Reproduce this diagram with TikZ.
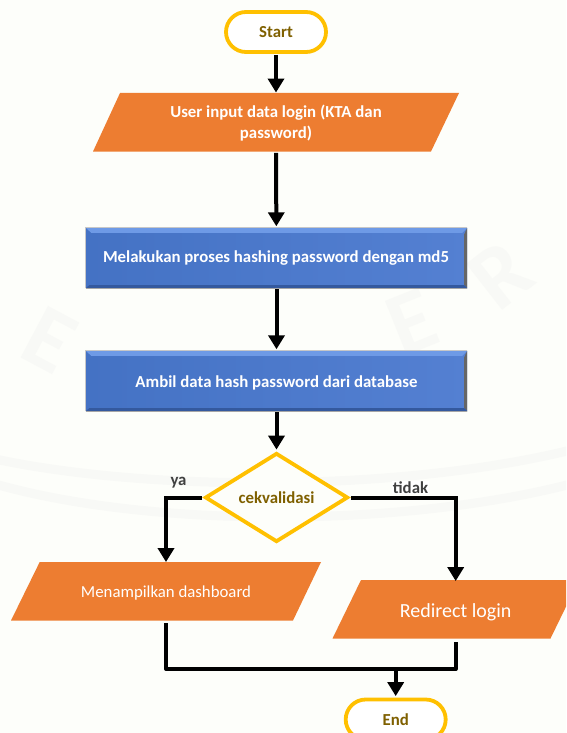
\documentclass[tikz,border=0pt]{standalone}
\usepackage{fontspec}
\setmainfont{Carlito}
\usetikzlibrary{shapes.geometric,arrows.meta}
\definecolor{orangeA}{HTML}{ED7D31}
\definecolor{blueA}{HTML}{4472C4}
\definecolor{blueB}{HTML}{5480D2}
\definecolor{blueC}{HTML}{6E9AE6}
\definecolor{blueD}{HTML}{34599E}
\definecolor{goldA}{HTML}{FFC000}
\definecolor{goldT}{HTML}{7F6000}
\definecolor{bgpage}{HTML}{FDFEFA}
\definecolor{wmark}{HTML}{F8F9F6}
\tikzset{
  x=1pt,y=-1pt,
  boldtxt/.style={font=\bfseries\fontsize{16.8}{21}\selectfont},
  term/.style={rectangle,rounded corners=20pt,draw=goldA,line width=3.8pt,fill=white,text=goldT,boldtxt,minimum width=100pt,minimum height=40pt,inner sep=0pt},
  parafill/.style={fill=orangeA},
  paratext/.style={rectangle,text=white,minimum height=58.5pt,inner sep=0pt,align=center},
  proc/.style={rectangle,left color=blueA,right color=blueB,minimum width=381pt,inner sep=0pt},
  proctext/.style={text=white,boldtxt,inner sep=0pt},
  dec/.style={diamond,draw=goldA,line width=3.8pt,fill=bgpage,text=goldT,boldtxt,minimum width=143pt,minimum height=89pt,inner sep=0pt,aspect=1.6},
  flow/.style={draw=black,line width=4pt,-{Triangle[width=16pt,length=14pt]},shorten >=1.5pt,shorten <=1pt},
  flowplain/.style={draw=black,line width=4pt,line join=round},
  lab/.style={text=black!75,boldtxt,inner sep=0pt},
  wm/.style={text=wmark,font=\bfseries\fontsize{90}{95}\selectfont,inner sep=0pt},
}
\newcommand{\bevelbox}[1]{%
  \fill[blueC] (#1.north west) -- (#1.north east) -- ++(-5,5) -- ++(-371,0) -- cycle;
  \fill[black!60] (#1.north east) -- (#1.south east) -- ++(-3,-3) -- ++(0,-51) -- cycle;
  \fill[blueD] (#1.south west) -- (#1.south east) -- ++(-3,-3) -- ++(-375,0) -- cycle;
  \draw[black!22,line width=1pt] (#1.south west) -- (#1.north west) -- (#1.north east);
  \draw[black!35,line width=1pt] (#1.south west) -- (#1.south east);
}
\begin{document}
\begin{tikzpicture}
\useasboundingbox (0,0) rectangle (566,733);
\clip (0,0) rectangle (566,733);
\fill[bgpage] (0,0) rectangle (566,733);
% faint watermark
\draw[wmark,line width=9pt] (-5,459) .. controls (150,492) and (400,492) .. (571,450);
\draw[wmark,line width=9pt] (-5,484) .. controls (150,528) and (400,528) .. (571,484);
\node[wm,rotate=-28] (wmE) at (50,340) {E};
\node[wm,rotate=22] (wmF) at (412,322) {E};
\node[wm,rotate=38] (wmR) at (500,275) {R};
% shapes
\node[term] (start) at (276,32) {Start};
\fill[parafill] (120,93) -- (459,93) -- (431,151.5) -- (93,151.5) -- cycle;
\node[paratext,boldtxt,minimum width=300pt] (input) at (276,123.5) {User input data login (KTA dan\\password)};
\node[proc,minimum height=60pt] (hash) at (276.5,258) {};
\node[proc,minimum height=60pt] (ambil) at (276.5,381) {};
\bevelbox{hash}
\bevelbox{ambil}
\node[proctext] (hasht) at (276,258.5) {Melakukan proses hashing password dengan md5};
\node[proctext] (ambilt) at (276.5,382.5) {Ambil data hash password dari database};
\node[dec] (cek) at (276.5,497.5) {cekvalidasi};
\fill[parafill] (39.7,562) -- (321,562) -- (293,620.5) -- (11,620.5) -- cycle;
\node[paratext,minimum width=250pt,font=\fontsize{16.8}{20}\selectfont] (dash) at (166,593) {Menampilkan dashboard};
\fill[parafill] (361,580) -- (579,580) -- (550.5,638.5) -- (332.5,638.5) -- cycle;
\node[paratext,minimum width=190pt,font=\fontsize{20}{24}\selectfont] (redir) at (455.7,612) {Redirect login};
\node[term] (end) at (395.7,719.5) {End};
\coordinate (merge) at (395.7,669);
\draw[flow] (start) -- (input.north);
\draw[flow] (input.south) ++(0,-1) -- (hash);
\draw[flow] (hash) -- (ambil);
\draw[flow] (ambil) -- (cek);
\draw[flow] (cek.west) -| (dash.north);
\draw[flow] (cek.east) -| (redir.north);
\draw[flowplain,shorten <=1pt] (dash.south) |- (merge);
\draw[flowplain,shorten <=1pt] (redir.south) |- (merge);
\draw[flow,shorten <=0pt] (merge) -- (end);
\node[lab] (ya) at (178.5,483) {ya};
\node[lab,fill=white,inner sep=1pt] (tidak) at (410.5,487.5) {tidak};
\end{tikzpicture}
\end{document}
